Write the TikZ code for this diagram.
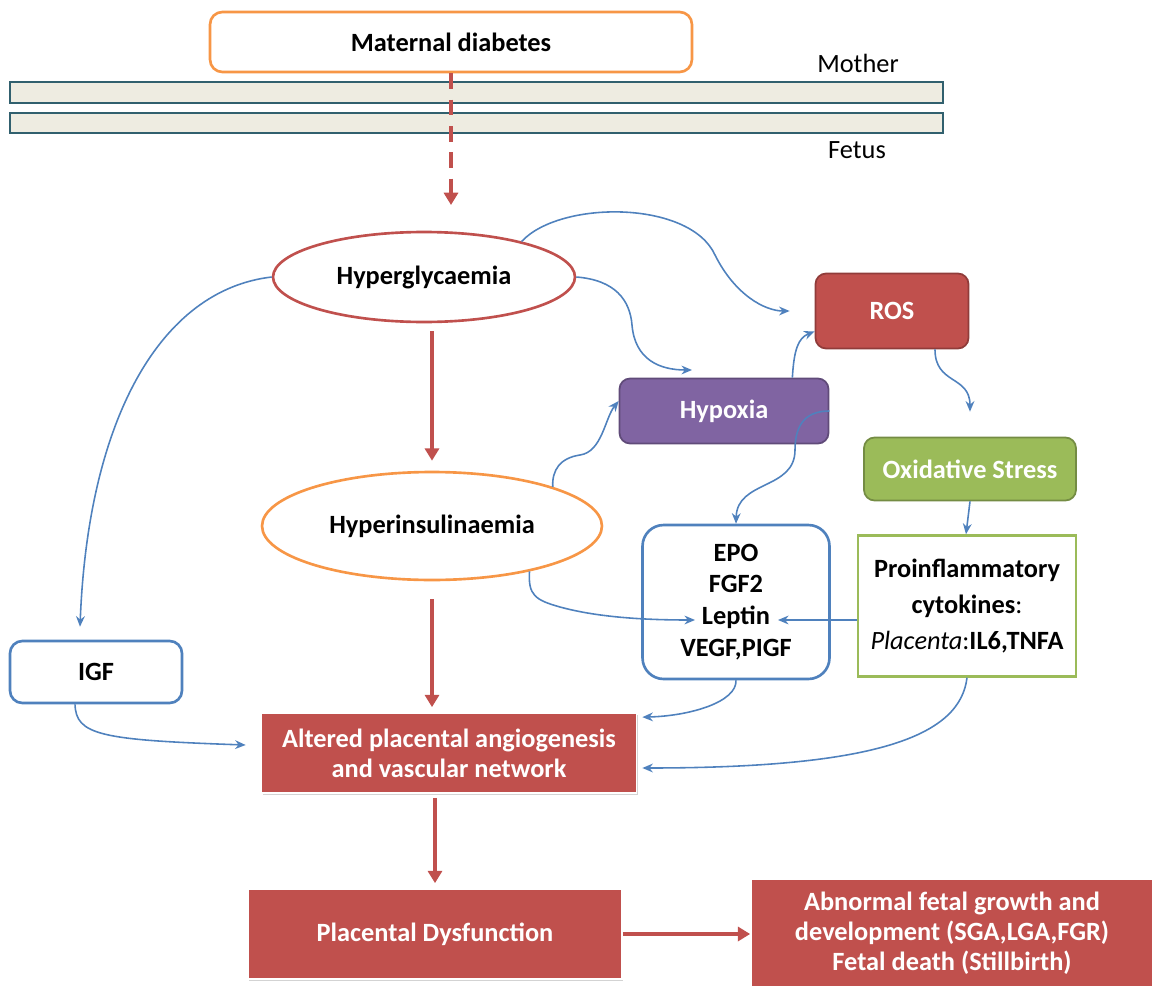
\documentclass[tikz,border=0pt]{standalone}
\usepackage{fontspec}
\setmainfont{Carlito}
\usetikzlibrary{arrows.meta,shapes.geometric,shadows}
\definecolor{myred}{HTML}{C0504D}
\definecolor{myorange}{HTML}{F79646}
\definecolor{mypurple}{HTML}{8064A2}
\definecolor{mygreen}{HTML}{9BBB59}
\definecolor{myblue}{HTML}{4F81BD}
\definecolor{bandfill}{HTML}{EEECE1}
\definecolor{bandline}{HTML}{31606E}
\tikzset{>=Stealth}
\tikzset{
  every node/.style={inner sep=0pt},
  outlinebox/.style={draw=#1,line width=1.5pt,fill=white,rounded corners=7pt},
  filledbox/.style={draw=#1!75!black,line width=1pt,fill=#1,text=white,rounded corners=6pt},
  redbox/.style={draw=white,line width=1pt,fill=myred,text=white,align=center,
    drop shadow={shadow xshift=0.6pt,shadow yshift=-1.2pt,opacity=0.35}},
  ell/.style={ellipse,draw=#1,line width=1.5pt,fill=white},
  band/.style={draw=bandline,line width=1.5pt,fill=bandfill},
  redarrow/.style={draw=myred,line width=2pt,-{Triangle[length=7pt,width=8pt]}},
  bluearrow/.style={draw=myblue,line width=0.9pt,-{Stealth[length=6pt,width=5pt]}}
}
\begin{document}
\begin{tikzpicture}[x=0.02cm,y=-0.02cm,font=\fontsize{15}{18}\selectfont\bfseries]
\useasboundingbox (0,0) rectangle (1157,987);

\draw[band] (10,82) rectangle (943,103);
\draw[band] (10,113) rectangle (943,133);
\node[font=\fontsize{15}{18}\selectfont] (mother) at (858,63) {Mother};
\node[font=\fontsize{15}{18}\selectfont] (fetus) at (857,150) {Fetus};

\node[outlinebox=myorange,minimum width=9.64cm,minimum height=1.2cm] (md) at (451,42) {Maternal diabetes};
\coordinate (mdend) at (451,205);
\draw[redarrow,dashed,dash pattern=on 9pt off 6pt] (md.south) -- (mdend);

\node[ell=myred,minimum width=6.04cm,minimum height=1.8cm] (hg) at (424,277) {Hyperglycaemia};
\node[ell=myorange,minimum width=6.8cm,minimum height=2.16cm] (hi) at (432,526) {Hyperinsulinaemia};
\node[outlinebox=myblue,minimum width=3.44cm,minimum height=1.24cm] (igf) at (96,672) {IGF};

\node[filledbox=myred,minimum width=3.06cm,minimum height=1.5cm] (ros) at (892,311) {ROS};
\node[filledbox=mypurple,minimum width=4.18cm,minimum height=1.3cm] (hyp) at (724,411) {Hypoxia};
\node[filledbox=mygreen,minimum width=4.24cm,minimum height=1.26cm] (ox) at (970,469) {Oxidative Stress};

\node[outlinebox=myblue,rounded corners=12pt,minimum width=3.74cm,minimum height=3.08cm,align=center,
  font=\fontsize{15}{18.1}\selectfont\bfseries] (epo) at (736,602) {EPO\\FGF2\\Leptin\\VEGF,PIGF};
\node[draw=mygreen,line width=1.5pt,fill=white,minimum width=4.36cm,minimum height=2.82cm,align=center,
  font=\fontsize{15}{20.4}\selectfont\bfseries] (pf) at (967,606)
  {Proinflammatory\\cytokines{\normalfont:}\\{\normalfont\itshape Placenta}{\normalfont:}IL6,TNFA};
\coordinate (lepl) at (695,620);
\coordinate (lepr) at (778,620);

\node[redbox,minimum width=7.5cm,minimum height=1.6cm] (al) at (449,753) {Altered placental angiogenesis\\[-0.8pt]and vascular network};
\node[redbox,minimum width=7.48cm,minimum height=1.8cm] (pd) at (435,934) {Placental Dysfunction};
\node[redbox,minimum width=8.04cm,minimum height=2.14cm] (ab) at (952,933) {Abnormal fetal growth and\\[-1pt]development (SGA,LGA,FGR)\\[-1pt]Fetal death (Stillbirth)};

\draw[redarrow,shorten <=0.16cm,shorten >=0.2cm] (hi.north |- hg.south) -- (hi.north);
\draw[redarrow,shorten <=0.36cm,shorten >=0.1cm] (hi.south) -- (hi.south |- al.north);
\draw[redarrow,shorten <=0.08cm,shorten >=0.1cm] (pd.north |- al.south) -- (pd.north);
\draw[redarrow] (pd.east) -- (ab.west |- pd.east);

\draw[bluearrow,shorten >=0.5cm] (hg.20) .. controls (560,200) and (690,200) .. (715,255) .. controls (735,295) and (765,311) .. (ros.west);
\coordinate (hypin) at (692,370);
\draw[bluearrow] (hg.east) .. controls (615,280) and (630,300) .. (632,325) .. controls (635,360) and (660,370) .. (hypin);
\draw[bluearrow] ([xshift=-0.74cm]hyp.north east) .. controls (794,350) and (798,338) .. ([yshift=0.36cm]ros.south west);
\draw[bluearrow] ([xshift=0.86cm]ros.south) .. controls (935,385) and (970,375) .. ([yshift=0.5cm]ox.north);
\draw[bluearrow] (ox.south) -- ([xshift=-0.02cm]pf.north);
\draw[bluearrow] (hi.18) .. controls (552,470) and (560,458) .. (580,455) .. controls (602,452) and (605,418) .. ([yshift=0.2cm]hyp.west);
\draw[bluearrow] (hyp.east) .. controls (808,411) and (795,422) .. (795,450) .. controls (795,490) and (737,480) .. (epo.north);
\draw[bluearrow] (hi.-25) .. controls (528,595) and (535,600) .. (560,607) .. controls (600,618) and (650,620) .. (lepl);
\draw[bluearrow] (pf.west |- lepr) -- (lepr);
\draw[bluearrow] (epo.south) .. controls (737,702) and (690,716) .. ([yshift=-0.1cm,xshift=0.1cm]al.north east);
\draw[bluearrow] (pf.south) .. controls (960,735) and (880,768) .. ([yshift=-0.3cm,xshift=0.1cm]al.east);
\draw[bluearrow] ([xshift=-0.42cm]igf.south) .. controls (76,735) and (100,740) .. ([yshift=0.16cm,xshift=-0.3cm]al.west);
\draw[bluearrow] (hg.west) .. controls (160,290) and (88,420) .. ([xshift=-0.32cm,yshift=0.26cm]igf.north);
\end{tikzpicture}
\end{document}
